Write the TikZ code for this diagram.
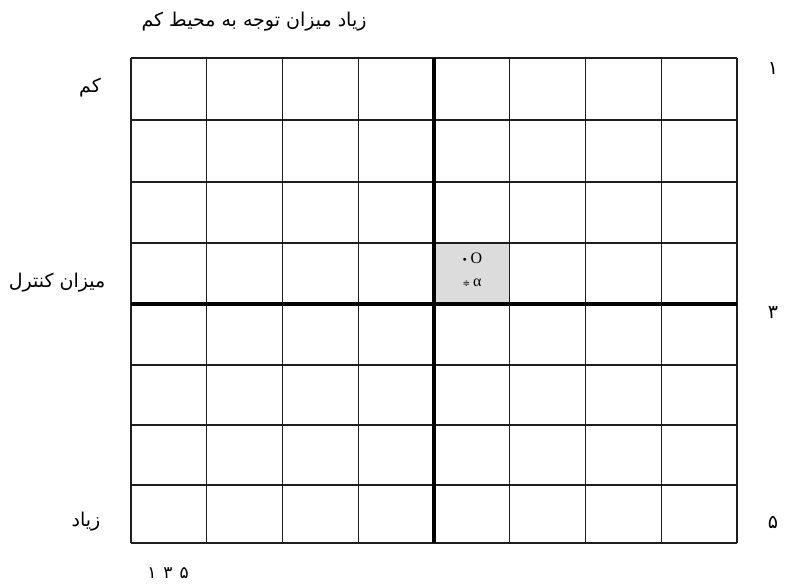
\documentclass[tikz,border=0pt]{standalone}
\usepackage{fontspec}
\usepackage{xcolor}
\usepackage{tikz}
\usetikzlibrary{positioning}
\TeXXeTstate=1
\newfontfamily\arabicfont[Script=Arabic]{DejaVu Sans}
\newfontfamily\symfont{DejaVu Sans}
\newfontfamily\greekfont{Liberation Serif}
\definecolor{gridink}{HTML}{1E1E1E}
\definecolor{cellgray}{HTML}{DCDCDC}
\tikzset{
  falabel/.style={font=\arabicfont\fontsize{19}{22}\selectfont, inner sep=0pt},
  fadigits/.style={font=\arabicfont\fontsize{17}{20}\selectfont, inner sep=0pt},
  cellmark/.style={font=\fontsize{16}{18}\selectfont, inner sep=0pt},
  gridline/.style={line width=1.4pt, draw=gridink},
  midline/.style={line width=3.4pt, draw=black}
}

\begin{document}
\begin{tikzpicture}[x=1pt,y=-1pt]
  \useasboundingbox (0,0) rectangle (788,587);
  % shaded cell
  \fill[cellgray] (434,243) rectangle (509.75,304);
  % grid
  \foreach \x in {0,...,8}
    \draw[gridline] (131+\x*75.75,58) -- (131+\x*75.75,543);
  \foreach \y in {58,120,182,243,304,365,425,485,543}
    \draw[gridline] (131,\y) -- (737,\y);
  \draw[midline] (434,58) -- (434,543);
  \draw[midline] (131,304) -- (737,304);
  % labels
  \node[falabel] (title) at (254,22) {\beginR زیاد میزان توجه به محیط کم\endR};
  \node[falabel] (low) at (90,88) {\beginR کم\endR};
  \node[falabel] (control) at (57,283) {\beginR میزان کنترل\endR};
  \node[falabel] (high) at (86,522) {\beginR زیاد\endR};
  \node[falabel] (one) at (773,68) {\beginR ۱\endR};
  \node[falabel] (three) at (773,312) {\beginR ۳\endR};
  \node[falabel] (five) at (773,522) {\beginR ۵\endR};
  \node[fadigits] (scale) at (168,573) {\beginR ۵\hspace{7pt}۳\hspace{7pt}۱\endR};
  % cell marks
  \node[cellmark] (dotO) at (472,258) {\symfont{\fontsize{10}{10}\selectfont•}\hspace{3pt}\greekfont O};
  \node[cellmark] (eqalpha) at (472,283) {\symfont{\fontsize{9}{10}\selectfont≑}\hspace{3pt}\greekfont α};
\end{tikzpicture}
\end{document}
